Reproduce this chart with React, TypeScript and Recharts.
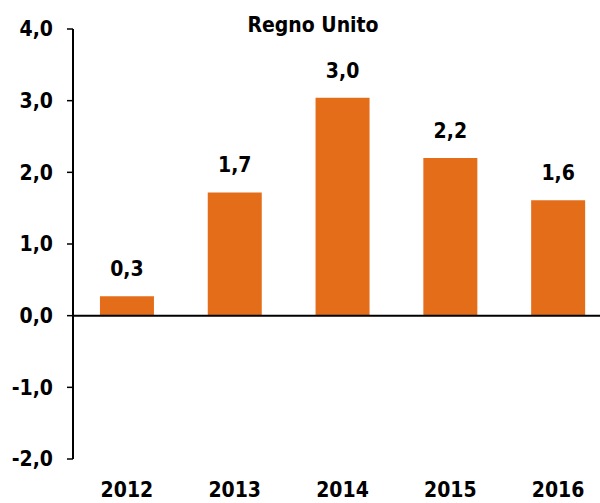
import React from "react";
import { BarChart, Bar, XAxis, YAxis, ReferenceLine, LabelList } from "recharts";

const categories = ["2012", "2013", "2014", "2015", "2016"];
const values = [0.27, 1.72, 3.04, 2.2, 1.61];
const yTicks = [-2, -1, 0, 1, 2, 3, 4];
const title = "Regno Unito";

const data = categories.map((c, i) => ({ year: c, value: values[i] }));
const fmt = (v: number) => v.toFixed(1).replace(".", ",");

const FONT = "'DejaVu Sans Condensed', 'DejaVu Sans', sans-serif";
const ORANGE = "#E46D19";

export default function App() {
  return (
    <div
      style={{
        position: "absolute",
        left: 0,
        top: 0,
        width: 600,
        height: 503,
        overflow: "hidden",
        background: "#fff",
        fontFamily: FONT,
      }}
    >
      <BarChart
        width={612}
        height={503}
        data={data}
        margin={{ top: 29, right: 0, left: 0, bottom: 0 }}
        barCategoryGap="25%"
      >
        <XAxis
          dataKey="year"
          axisLine={false}
          tickLine={false}
          tickSize={0}
          tickMargin={23}
          height={44}
          interval={0}
          tick={{ fill: "#000", fontSize: 21, fontWeight: 700, fontFamily: FONT }}
        />
        <YAxis
          domain={[-2, 4]}
          ticks={yTicks}
          width={73}
          interval={0}
          tickFormatter={fmt}
          axisLine={{ stroke: "#000", strokeWidth: 2 }}
          tickLine={{ stroke: "#000", strokeWidth: 1.5 }}
          tickSize={6}
          tickMargin={14}
          tick={{ fill: "#000", fontSize: 21, fontWeight: 700, fontFamily: FONT }}
        />
        <Bar dataKey="value" fill={ORANGE} isAnimationActive={false}>
          <LabelList
            dataKey="value"
            position="top"
            offset={20}
            formatter={(v: any) => fmt(Number(v))}
            style={{ fill: "#000", fontSize: 21, fontWeight: 700, fontFamily: FONT }}
          />
        </Bar>
        <ReferenceLine y={0} stroke="#000" strokeWidth={2} ifOverflow="extendDomain" />
      </BarChart>
      <div
        style={{
          position: "absolute",
          left: 313,
          top: 12,
          transform: "translateX(-50%)",
          fontSize: 21,
          fontWeight: 700,
          color: "#000",
          whiteSpace: "nowrap",
          fontFamily: FONT,
          lineHeight: "26px",
        }}
      >
        {title}
      </div>
    </div>
  );
}
